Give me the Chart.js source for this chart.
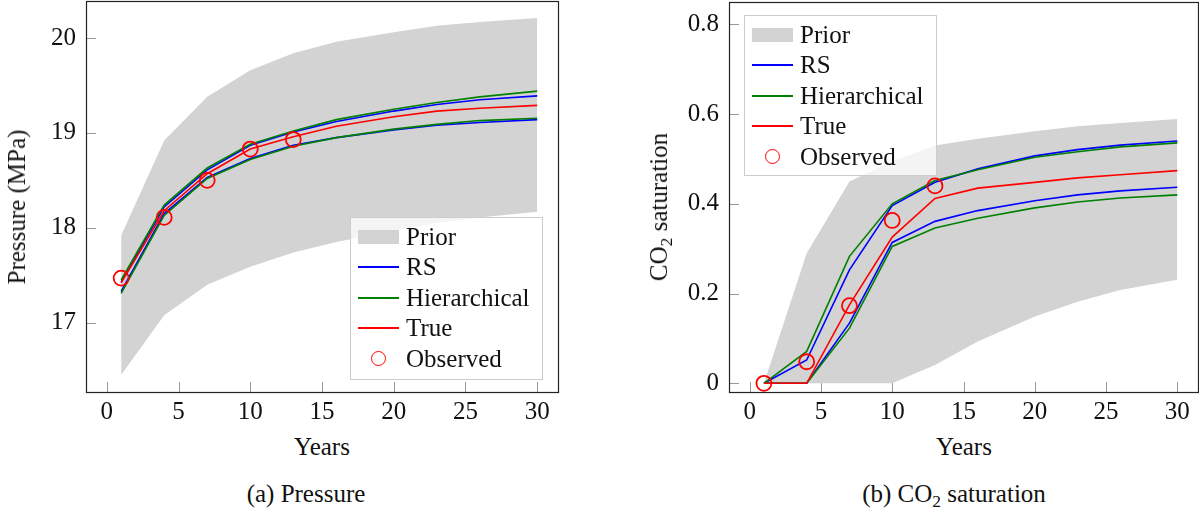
<!DOCTYPE html>
<html>
<head>
<meta charset="utf-8">
<script src="https://cdn.jsdelivr.net/npm/chart.js@4.4.0/dist/chart.umd.min.js"></script>
<style>
  body { margin: 0; width: 1199px; height: 512px; background: #fff; position: relative; overflow: hidden;
         font-family: 'Liberation Serif', serif; color: #111; }
  canvas { position: absolute; top: 0; }
  .txt { position: absolute; font-size: 25px; white-space: nowrap; transform: translate(-50%, -50%); }
  .ytitle { transform: translate(-50%, -50%) rotate(-90deg); }
  .legend { position: absolute; border: 1px solid #ccc; background: rgba(255,255,255,0.75); box-sizing: border-box; }
  .row { position: absolute; left: 0; right: 0; height: 30px; font-size: 25px; }
  .row .sym { position: absolute; top: 50%; }
  .row .lab { position: absolute; top: 50%; transform: translateY(-50%); white-space: nowrap; }
  sub { font-size: 70%; vertical-align: -0.3em; line-height: 0; }
</style>
</head>
<body>
<canvas id="pressure" width="575" height="430" style="left:0;width:575px;height:430px"></canvas>
<canvas id="saturation" width="559" height="430" style="left:640px;width:559px;height:430px"></canvas>

<div class="txt ytitle" style="left:17px;top:207px">Pressure (MPa)</div>
<div class="txt" style="left:322px;top:447px">Years</div>
<div class="txt" style="left:306px;top:494px">(a) Pressure</div>

<div class="txt ytitle" style="left:659px;top:207px">CO<sub>2</sub> saturation</div>
<div class="txt" style="left:964px;top:447px">Years</div>
<div class="txt" style="left:954px;top:494px">(b) CO<sub>2</sub> saturation</div>

<div id="legendP" class="legend" style="left:350px;top:217px;width:193px;height:163px"></div>
<div id="legendS" class="legend" style="left:744px;top:15px;width:193px;height:161px"></div>

<script>
// time axis shared by both panels
const years = [1, 4, 7, 10, 13, 16, 20, 23, 26, 30];
const obsYears = [1, 4, 7, 10, 13];
const xTicks = [0, 5, 10, 15, 20, 25, 30];

// (a) pressure, MPa
const priorUpperP = [17.92, 18.92, 19.38, 19.66, 19.84, 19.96, 20.06, 20.13, 20.17, 20.21];
const priorLowerP = [16.45, 17.08, 17.40, 17.59, 17.74, 17.85, 17.97, 18.05, 18.11, 18.17];
const rsUpperP    = [17.43, 18.22, 18.61, 18.87, 19.01, 19.12, 19.23, 19.30, 19.35, 19.39];
const rsLowerP    = [17.33, 18.15, 18.53, 18.73, 18.87, 18.95, 19.03, 19.08, 19.11, 19.14];
const hierUpperP  = [17.45, 18.24, 18.63, 18.88, 19.02, 19.14, 19.25, 19.32, 19.38, 19.44];
const hierLowerP  = [17.31, 18.13, 18.52, 18.72, 18.86, 18.95, 19.04, 19.09, 19.13, 19.155];
const trueP       = [17.42, 18.18, 18.57, 18.83, 18.96, 19.07, 19.17, 19.23, 19.26, 19.29];
const obsP        = [17.47, 18.11, 18.50, 18.83, 18.93];
const pTicks = [17, 18, 19, 20];

// (b) CO2 saturation
const priorUpperS = [0, 0.29, 0.45, 0.495, 0.53, 0.545, 0.562, 0.573, 0.58, 0.589];
const priorLowerS = [0, 0, 0, 0, 0.041, 0.093, 0.149, 0.182, 0.208, 0.231];
const rsUpperS    = [0, 0.052, 0.253, 0.396, 0.448, 0.478, 0.507, 0.521, 0.531, 0.540];
const rsLowerS    = [0, 0, 0.134, 0.314, 0.361, 0.385, 0.407, 0.420, 0.429, 0.437];
const hierUpperS  = [0, 0.071, 0.283, 0.400, 0.452, 0.476, 0.504, 0.516, 0.527, 0.536];
const hierLowerS  = [0, 0, 0.123, 0.305, 0.346, 0.368, 0.391, 0.404, 0.413, 0.420];
const trueS       = [0, 0, 0.175, 0.326, 0.412, 0.435, 0.448, 0.458, 0.465, 0.474];
const obsS        = [0, 0.048, 0.173, 0.363, 0.44];
const sTicks = [0, 0.2, 0.4, 0.6, 0.8];

const legendLabels = ['Prior', 'RS', 'Hierarchical', 'True', 'Observed'];

const BAND = '#d3d3d3', BLUE = '#0000ff', GREEN = '#008000', RED = '#ff0000';
const FONT = { family: "'Liberation Serif', serif", size: 25 };

const pts = (xs, ys) => xs.map((x, i) => ({ x, y: ys[i] }));
const line = (data, color, order) => ({
  data, borderColor: color, borderWidth: 1.6, pointRadius: 0, tension: 0, fill: false, order
});

function buildDatasets(pu, pl, ru, rl, hu, hl, tr, ob) {
  return [
    { data: pts(years, pu), borderWidth: 0, pointRadius: 0, backgroundColor: BAND, fill: '+1', order: 10 },
    { data: pts(years, pl), borderWidth: 0, pointRadius: 0, fill: false, order: 10 },
    line(pts(years, ru), BLUE, 5),
    line(pts(years, rl), BLUE, 5),
    line(pts(years, hu), GREEN, 4),
    line(pts(years, hl), GREEN, 4),
    line(pts(years, tr), RED, 3),
    { data: pts(obsYears, ob), showLine: false, pointRadius: 7.5, pointHoverRadius: 7.5,
      borderColor: RED, borderWidth: 1.8, backgroundColor: 'rgba(0,0,0,0)', order: 1 }
  ];
}

// inward tick marks and full box frame, pgfplots style
const frameTicks = {
  id: 'frameTicks',
  beforeDatasetsDraw(chart) {
    const { ctx, chartArea: a, scales } = chart;
    ctx.save();
    ctx.strokeStyle = '#999';
    ctx.lineWidth = 1;
    scales.x.ticks.forEach(t => {
      const px = Math.round(scales.x.getPixelForValue(t.value)) + 0.5;
      ctx.beginPath(); ctx.moveTo(px, a.bottom); ctx.lineTo(px, a.bottom - 10); ctx.stroke();
    });
    scales.y.ticks.forEach(t => {
      const py = Math.round(scales.y.getPixelForValue(t.value)) + 0.5;
      ctx.beginPath(); ctx.moveTo(a.left, py); ctx.lineTo(a.left + 10, py); ctx.stroke();
    });
    ctx.restore();
  },
  afterDraw(chart) {
    const { ctx, chartArea: a } = chart;
    ctx.save();
    ctx.strokeStyle = '#222';
    ctx.lineWidth = 1.2;
    ctx.strokeRect(Math.round(a.left) + 0.5, Math.round(a.top) + 0.5,
                   Math.round(a.right - a.left), Math.round(a.bottom - a.top));
    ctx.restore();
  }
};

function makeChart(id, datasets, yMin, yMax, yTicks, yFmt, yWidth, pad) {
  return new Chart(document.getElementById(id), {
    type: 'line',
    data: { datasets },
    options: {
      responsive: false,
      animation: false,
      layout: { padding: pad, autoPadding: false },
      plugins: { legend: { display: false }, tooltip: { enabled: false } },
      scales: {
        x: {
          type: 'linear', min: -1.45, max: 31.45,
          afterBuildTicks: s => { s.ticks = xTicks.map(v => ({ value: v })); },
          afterFit: s => { s.height = 38; s.paddingLeft = 0; s.paddingRight = 0; },
          grid: { display: false, drawTicks: false },
          border: { display: false },
          ticks: { font: FONT, color: '#111', padding: 5, maxRotation: 0, callback: v => String(v) }
        },
        y: {
          type: 'linear', min: yMin, max: yMax,
          afterBuildTicks: s => { s.ticks = yTicks.map(v => ({ value: v })); },
          afterFit: s => { s.width = yWidth; s.paddingTop = 0; s.paddingBottom = 0; },
          grid: { display: false, drawTicks: false },
          border: { display: false },
          ticks: { font: FONT, color: '#111', padding: 10, callback: yFmt }
        }
      }
    },
    plugins: [frameTicks]
  });
}

// legends drawn as html overlays inside the plot areas
function buildLegend(id) {
  const box = document.getElementById(id);
  const kinds = [
    { type: 'band', color: BAND }, { type: 'line', color: BLUE }, { type: 'line', color: GREEN },
    { type: 'line', color: RED }, { type: 'mark', color: RED }
  ];
  legendLabels.forEach((label, i) => {
    const row = document.createElement('div');
    row.className = 'row';
    row.style.top = (19 + i * 30.4 - 15) + 'px';
    const sym = document.createElement('span');
    sym.className = 'sym';
    const k = kinds[i];
    if (k.type === 'band') {
      Object.assign(sym.style, { left: '7px', width: '41px', height: '14px', marginTop: '-7px', background: k.color });
    } else if (k.type === 'line') {
      Object.assign(sym.style, { left: '7px', width: '41px', height: '2px', marginTop: '-1px', background: k.color });
    } else {
      Object.assign(sym.style, { left: '20px', width: '13px', height: '13px', marginTop: '-8px',
        border: '1.8px solid ' + k.color, borderRadius: '50%' });
    }
    const lab = document.createElement('span');
    lab.className = 'lab';
    lab.style.left = '55px';
    lab.textContent = label;
    row.appendChild(sym);
    row.appendChild(lab);
    box.appendChild(row);
  });
}

function draw() {
  makeChart('pressure',
    buildDatasets(priorUpperP, priorLowerP, rsUpperP, rsLowerP, hierUpperP, hierLowerP, trueP, obsP),
    16.27, 20.39, pTicks, v => String(v), 86, { top: 1, right: 17, left: 0, bottom: 0 });

  makeChart('saturation',
    buildDatasets(priorUpperS, priorLowerS, rsUpperS, rsLowerS, hierUpperS, hierLowerS, trueS, obsS),
    -0.0194, 0.85, sTicks, v => (v === 0 ? '0' : v.toFixed(1)), 89, { top: 2, right: 1, left: 0, bottom: 0 });

  buildLegend('legendP');
  buildLegend('legendS');
}

// make sure the serif face is ready before the canvas text is painted
document.fonts.load("25px 'Liberation Serif'").then(draw, draw);
</script>
</body>
</html>
